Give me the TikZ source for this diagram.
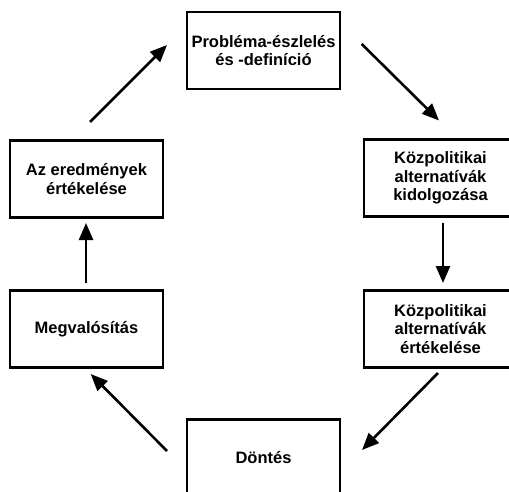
\documentclass[tikz,border=0pt]{standalone}
\usepackage{fontspec}
\setmainfont{Liberation Sans}
\usetikzlibrary{arrows.meta}
\tikzset{
  stagebox/.style={draw=black, line width=2.6pt, rectangle, outer sep=0pt,
    minimum width=153pt, minimum height=77pt, align=center,
    font=\fontsize{16.5}{18.5}\selectfont\bfseries},
  arr/.style={line width=2.6pt, -{Triangle[length=17pt,width=14pt]}}
}
\begin{document}
\begin{tikzpicture}[x=1pt,y=-1pt]
\useasboundingbox (0,0) rectangle (509,492);
\clip (0,0) rectangle (509,492);
\fill[white] (0,0) rectangle (509,492);
\node[stagebox] (top) at (263.5,50.5) {Probléma-észlelés\\és -definíció};
\node[stagebox] (r1) at (440.5,178) {Közpolitikai\\alternatívák\\kidolgozása};
\node[stagebox] (r2) at (440.5,329) {Közpolitikai\\alternatívák\\értékelése};
\node[stagebox] (dont) at (263.5,458) {Döntés};
\node[stagebox] (l2) at (86.5,329) {Megvalósítás};
\node[stagebox] (l1) at (86.5,179) {Az eredmények\\értékelése};
\draw[arr] ([shift={(3.5pt,18.5pt)}]l1.north) -- ([shift={(-20pt,5.5pt)}]top.west);
\draw[arr] ([shift={(21.7pt,6.5pt)}]top.east) -- ([shift={(-1.5pt,19pt)}]r1.north);
\draw[arr] ([shift={(2.5pt,-6.5pt)}]r1.south) -- ([shift={(2.5pt,7.5pt)}]r2.north);
\draw[arr] ([shift={(-2.5pt,-5.5pt)}]r2.south) -- ([shift={(22pt,8pt)}]dont.east);
\draw[arr] ([shift={(-20pt,7pt)}]dont.west) -- ([shift={(4.2pt,-6.5pt)}]l2.south);
\draw[arr] ([shift={(-0.5pt,7.5pt)}]l2.north) -- ([shift={(-0.5pt,-5.5pt)}]l1.south);
\end{tikzpicture}
\end{document}
